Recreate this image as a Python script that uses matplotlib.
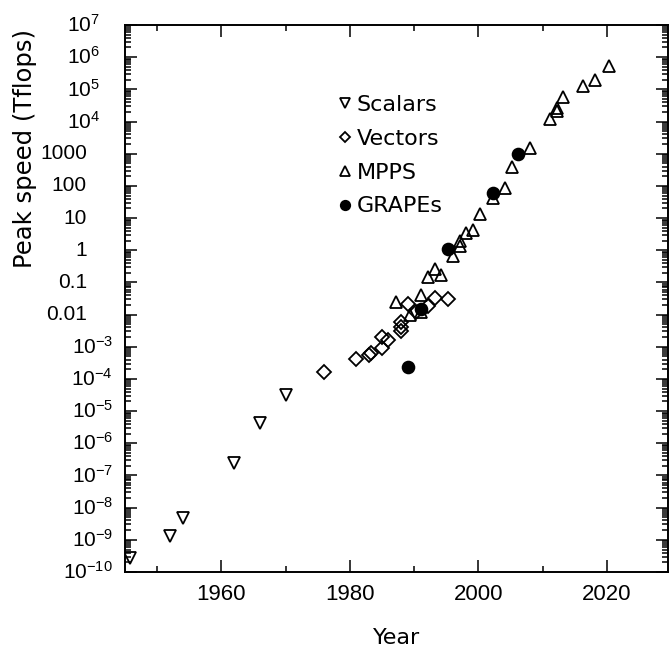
"""
Peak speed of scalar, vector, massively parallel machines and GRAPEs.
"""
import matplotlib
matplotlib.use("Agg")
from matplotlib import pyplot as plt
from matplotlib import ticker
from matplotlib.transforms import blended_transform_factory

OUTPUT = "out.png"

SCALAR_YEARS = [1945.8, 1952, 1954, 1962, 1966, 1970]
SCALAR_SPEED = [2.7e-10, 1.3e-9, 4.8e-9, 2.4e-7, 4.2e-6, 3.1e-5]

VECTOR_YEARS = [1976, 1981, 1983, 1983.3, 1985, 1985, 1986, 1988, 1988, 1988,
                1989, 1990.3, 1992.2, 1993.2, 1995.2]
VECTOR_SPEED = [1.6e-4, 4.1e-4, 5.6e-4, 6.3e-4, 8.9e-4, 2.0e-3, 1.6e-3, 3e-3,
                4e-3, 5.7e-3, 0.022, 0.012, 0.018, 0.032, 0.031]

MPP_YEARS = [1987.1, 1989.3, 1991.1, 1991.1, 1992.2, 1993.2, 1994.1, 1996,
             1997.1, 1997.1, 1998.1, 1999.2, 2000.2, 2002.2, 2004.2, 2005.2,
             2008.1, 2011.2, 2012.2, 2012.2, 2013.2, 2016.3, 2018.2, 2020.3]
MPP_SPEED = [0.025, 0.0098, 0.012, 0.041, 0.145, 0.26, 0.17, 0.66, 1.35, 1.9,
             3.4, 4.3, 13, 41, 88, 400, 1500, 1.2e4, 2.2e4, 2.7e4, 5.9e4,
             1.3e5, 1.9e5, 5.5e5]

GRAPE_YEARS = [1989.1, 1991.1, 1995.2, 2002.2, 2006.2]
GRAPE_SPEED = [2.4e-4, 0.0144, 1.07, 62, 980]

YTICK_EXPONENTS = list(range(-10, 8))
YTICK_PLAIN = {
    3: "1000", 2: "100", 1: "10", 0: "1", -1: "0.1", -2: "0.01",
}
XTICKS = [1960, 1980, 2000, 2020]


def ylabel_for(e):
    if e in YTICK_PLAIN:
        return YTICK_PLAIN[e]
    return r"$10^{%d}$" % e


def label_x(e):
    # the base number lines up with the plain labels and the
    # exponent hangs out to the right, like old plotting packages did
    if e in YTICK_PLAIN:
        return -0.070
    if e > 0:
        return -0.046
    return -0.022


if __name__ == "__main__":
    plt.rcParams.update({
        "mathtext.fontset": "custom",
        "mathtext.rm": "Liberation Sans",
        "mathtext.it": "Liberation Sans",
        "mathtext.bf": "Liberation Sans",
        "font.family": "DejaVu Sans",
        "axes.linewidth": 1.4,
    })
    fig = plt.figure(figsize=(6.71, 6.51), dpi=100)
    ax = fig.add_axes([125 / 671, 1 - 572 / 651, 543 / 671, 547 / 651])

    common = dict(linestyle="none", markeredgecolor="black",
                  markeredgewidth=1.3)
    ax.plot(SCALAR_YEARS, SCALAR_SPEED, marker="v", markersize=8.5,
            markerfacecolor="none", label="Scalars", **common)
    ax.plot(VECTOR_YEARS, VECTOR_SPEED, marker="D", markersize=7,
            markerfacecolor="none", label="Vectors", **common)
    ax.plot(MPP_YEARS, MPP_SPEED, marker="^", markersize=8.5,
            markerfacecolor="none", label="MPPS", **common)
    ax.plot(GRAPE_YEARS, GRAPE_SPEED, marker="o", markersize=8.5,
            markerfacecolor="black", label="GRAPEs", **common)

    ax.set_yscale("log")
    ax.set_xlim(1945, 2029.5)
    ax.set_ylim(1e-10, 1e7)

    ax.yaxis.set_major_locator(ticker.FixedLocator([10.0 ** e for e in YTICK_EXPONENTS]))
    ax.yaxis.set_major_formatter(ticker.NullFormatter())
    ax.yaxis.set_minor_locator(ticker.LogLocator(base=10, subs=range(2, 10), numticks=100))
    ax.yaxis.set_minor_formatter(ticker.NullFormatter())
    ax.xaxis.set_major_locator(ticker.FixedLocator(XTICKS))
    ax.xaxis.set_minor_locator(ticker.MultipleLocator(10))

    ax.tick_params(which="both", direction="in", top=True, right=True,
                   width=1.1, colors="black")
    ax.tick_params(which="major", length=8.5)
    ax.tick_params(which="minor", length=4.5)
    ax.tick_params(axis="x", which="major", labelsize=16, pad=9)
    for lab in ax.get_xticklabels():
        lab.set_family("Liberation Sans")

    # y tick labels, placed per decade
    trans = blended_transform_factory(ax.transAxes, ax.transData)
    for e in YTICK_EXPONENTS:
        ax.text(label_x(e), 10.0 ** e, ylabel_for(e), transform=trans,
                ha="right", va="center", fontsize=15, family="Liberation Sans")

    ax.set_xlabel("Year", fontsize=16, va="center")
    ax.xaxis.set_label_coords(0.5, -0.1207)
    ax.set_ylabel("Peak speed (Tflops)", fontsize=17.5, va="center")
    ax.yaxis.set_label_coords(-0.184, 0.775)

    ax.legend(loc="upper left", bbox_to_anchor=(0.502, 0.854),
              bbox_transform=fig.transFigure, frameon=False, borderpad=0,
              borderaxespad=0, handlelength=0.7, handletextpad=0.2,
              labelspacing=0.62, markerscale=0.8, fontsize=16)

    fig.savefig(OUTPUT, dpi=100)
